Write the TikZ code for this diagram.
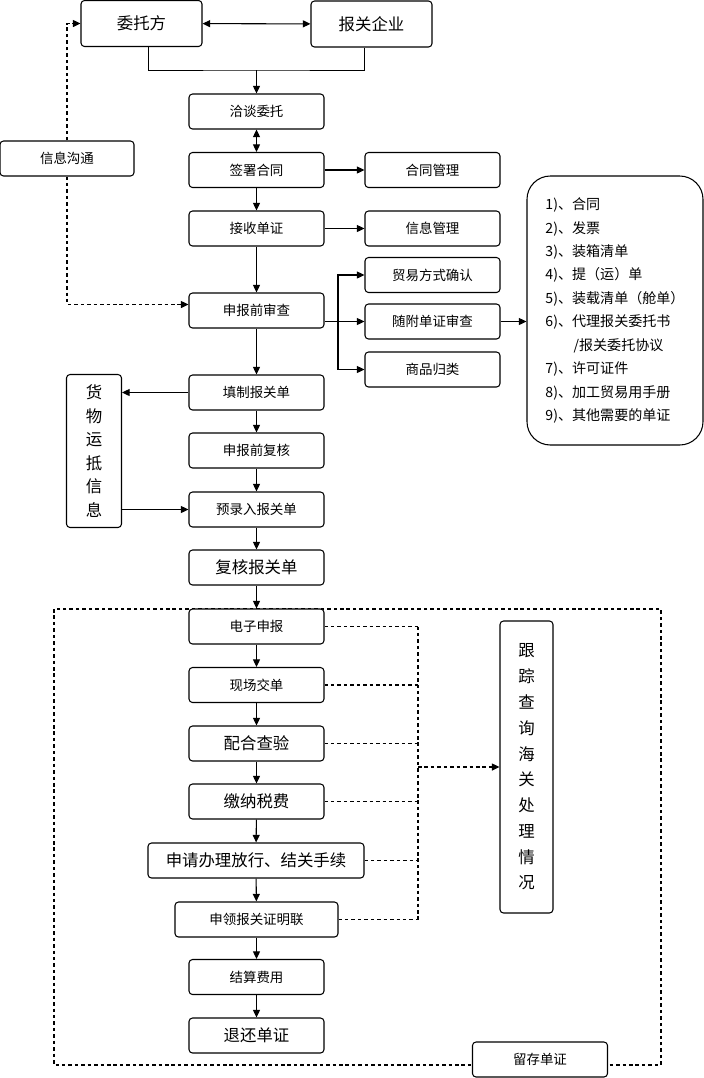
\documentclass[tikz,border=0pt]{standalone}
\usepackage{fontspec}
\setmainfont{Noto Sans CJK SC}
\usetikzlibrary{arrows.meta}

\tikzset{
	box/.style={draw, rounded corners=3pt, line width=0.9pt, fill=white, inner sep=0pt,
		minimum width=4.05cm, minimum height=1.05cm, font=\fontsize{11.5}{13}\selectfont},
	bigbox/.style={box, font=\fontsize{14}{16}\selectfont},
	tallbox/.style={box, align=center, font=\fontsize{14}{20}\selectfont},
	arr/.style={-{Triangle[length=6.5pt,width=6pt]}, line width=0.9pt},
	dbl/.style={{Triangle[length=6.5pt,width=6pt]}-{Triangle[length=6.5pt,width=6pt]}, line width=0.9pt},
	dline/.style={dash pattern=on 3pt off 2.5pt, line width=1pt},
	darr/.style={dline, -{Triangle[length=6.5pt,width=6pt]}}
}

\begin{document}
\begin{tikzpicture}[x=0.03cm, y=-0.03cm]
	\useasboundingbox (0,0) rectangle (704,1078);
	
	% region of the customs steps
	\draw[dline] (54,609) rectangle (661,1065);
	
	\node[bigbox, minimum width=3.63cm, minimum height=1.38cm] (wtf) at (141.5,23.5) {委托方};
	\node[bigbox, minimum width=3.63cm, minimum height=1.38cm] (bgqy) at (371.5,24) {报关企业};
	
	\node[box] (qtwt) at (256.5,111.5) {洽谈委托};
	\node[box] (qsht) at (256.5,170) {签署合同};
	\node[box] (htgl) at (432.5,170) {合同管理};
	\node[box] (jsdz) at (256.5,228.5) {接收单证};
	\node[box] (xxgl) at (432.5,228.5) {信息管理};
	\node[box, minimum width=4.02cm] (xxgt) at (67,158.5) {信息沟通};
	
	\node[box] (sbsc) at (256.5,310.5) {申报前审查};
	\node[box] (myfs) at (432.5,275) {贸易方式确认};
	\node[box] (fjsc) at (432.5,321.5) {随附单证审查};
	\node[box] (sppl) at (432.5,369.5) {商品归类};
	
	\node[box, rounded corners=0.7cm, minimum width=5.28cm, minimum height=8.07cm, align=left,
		font=\fontsize{12}{20}\selectfont] (djlb) at (615,310.5)
		{1)、合同\\2)、发票\\3)、装箱清单\\4)、提（运）单\\5)、装载清单（舱单）\\6)、代理报关委托书\\\hspace*{2em}/报关委托协议\\7)、许可证件\\8)、加工贸易用手册\\9)、其他需要的单证};
	
	\node[box] (tzbgd) at (256.5,392.5) {填制报关单};
	\node[tallbox, minimum width=1.65cm, minimum height=4.59cm] (hwyd) at (94,451) {货\\物\\运\\抵\\信\\息};
	\node[box] (sbfh) at (256.5,450.5) {申报前复核};
	\node[box] (ylr) at (256.5,509.5) {预录入报关单};
	\node[bigbox] (fhbgd) at (256.5,567.5) {复核报关单};
	
	\node[box] (dzsb) at (256.5,626.5) {电子申报};
	\node[box] (xcjd) at (256.5,685) {现场交单};
	\node[bigbox] (phcy) at (256.5,743.5) {配合查验};
	\node[bigbox] (jnsf) at (256.5,801.5) {缴纳税费};
	\node[bigbox, minimum width=6.48cm] (sqbl) at (256,860.5) {申请办理放行、结关手续};
	\node[box, minimum width=4.89cm] (slbg) at (256.5,919.5) {申领报关证明联};
	\node[box] (jsfy) at (256.5,977) {结算费用};
	\node[bigbox] (thdz) at (256.5,1035.5) {退还单证};
	\node[box] (lcdz) at (540,1059.5) {留存单证};
	\node[tallbox, minimum width=1.59cm, minimum height=8.76cm, font=\fontsize{14}{22}\selectfont] (gzcx) at (526.5,767)
		{跟\\踪\\查\\询\\海\\关\\处\\理\\情\\况};
	
	% top part
	\coordinate (hz) at (256.5,70);
	\draw[dbl] (wtf) -- (bgqy);
	\draw[line width=0.7pt] ([xshift=0.2cm]wtf.south) |- (hz) -| ([xshift=-0.2cm]bgqy.south);
	\draw[arr] (hz) -- (qtwt);
	\draw[dbl] (qtwt) -- (qsht);
	\draw[arr] (qsht) -- (htgl);
	\draw[arr] (jsdz) -- (xxgl);
	\draw[darr] (xxgt.north) |- (wtf.west);
	\draw[darr] (xxgt.south) |- ([yshift=0.18cm]sbsc.west);
	
	% documents check
	\coordinate (fz) at (338,321.5);
	\draw[arr] (sbsc.east |- fjsc) -- (fjsc);
	\draw[arr] (fz) |- (myfs);
	\draw[arr] (fz) |- (sppl);
	\draw[arr] (fjsc) -- (fjsc -| djlb.west);
	
	\draw[arr] (tzbgd.west) -- (tzbgd.west -| hwyd.east);
	\draw[arr] (ylr.west -| hwyd.east) -- (ylr.west);
	
	\foreach \a/\b in {qsht/jsdz, jsdz/sbsc, sbsc/tzbgd, tzbgd/sbfh, sbfh/ylr, ylr/fhbgd, fhbgd/dzsb,
		dzsb/xcjd, xcjd/phcy, phcy/jnsf, jnsf/sqbl, sqbl/slbg, slbg/jsfy, jsfy/thdz}
		\draw[arr] (\a) -- (\b);
	
	% tracking
	\coordinate (gz) at (418,0);
	\foreach \b in {dzsb, xcjd, phcy, jnsf, sqbl, slbg}
		\draw[dline] (\b.east) -- (\b.east -| gz);
	\draw[dline] (dzsb.east -| gz) -- (slbg.east -| gz);
	\draw[darr] (gz |- gzcx) -- (gzcx.west);
	
\end{tikzpicture}
\end{document}
